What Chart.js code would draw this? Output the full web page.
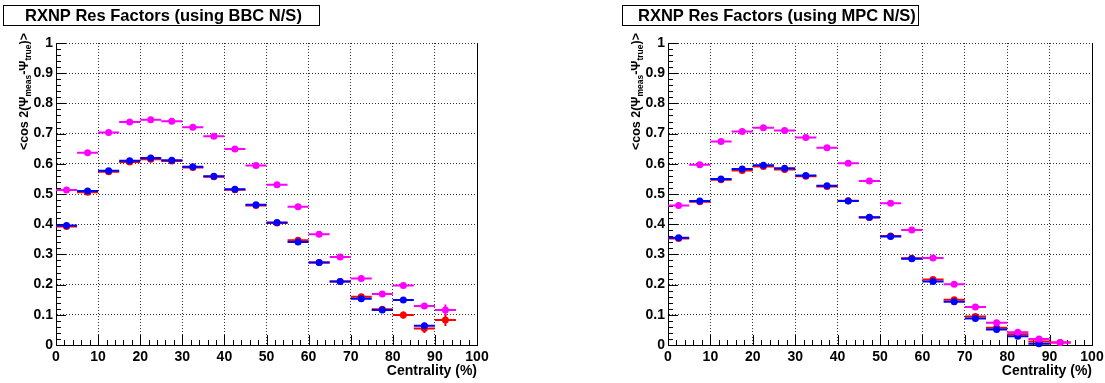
<!DOCTYPE html>
<html>
<head>
<meta charset="utf-8">
<script src="https://cdn.jsdelivr.net/npm/chart.js@4.4.1/dist/chart.umd.min.js"></script>
<style>
body { margin: 0; background: #fff; }
#wrap { position: relative; width: 1105px; height: 383px; }
.pad { position: absolute; top: 0; height: 383px; }
</style>
</head>
<body>
<div id="wrap">
  <div class="pad" style="left:0;width:552px"><canvas id="bbcChart"></canvas></div>
  <div class="pad" style="left:552px;width:553px"><canvas id="mpcChart"></canvas></div>
</div>
<script>
// centrality bin centres (5% wide bins)
var centrality = [2.5, 7.5, 12.5, 17.5, 22.5, 27.5, 32.5, 37.5, 42.5, 47.5, 52.5, 57.5, 62.5, 67.5, 72.5, 77.5, 82.5, 87.5, 92.5];
var binHalfWidth = 2.5;

// BBC N/S panel
var bbcMagenta = [0.513, 0.637, 0.704, 0.738, 0.746, 0.741, 0.721, 0.691, 0.649, 0.594, 0.531, 0.458, 0.367, 0.291, 0.220, 0.169, 0.197, 0.129, 0.116];
var bbcBlue    = [0.396, 0.510, 0.577, 0.610, 0.619, 0.612, 0.590, 0.559, 0.516, 0.464, 0.406, 0.341, 0.273, 0.210, 0.153, 0.116, 0.149, 0.064, null];
var bbcRed     = [0.392, 0.506, 0.574, 0.606, 0.615, 0.609, 0.588, 0.557, 0.514, 0.462, 0.404, 0.347, 0.273, 0.210, 0.160, 0.118, 0.099, 0.055, 0.083];
var bbcMagentaErr = [0.003, 0.003, 0.003, 0.003, 0.003, 0.003, 0.003, 0.003, 0.003, 0.003, 0.004, 0.004, 0.004, 0.005, 0.005, 0.006, 0.006, 0.008, 0.018];
var bbcBlueErr    = [0.003, 0.003, 0.003, 0.003, 0.003, 0.003, 0.003, 0.003, 0.003, 0.003, 0.004, 0.004, 0.005, 0.005, 0.007, 0.007, 0.008, 0.010, 0];
var bbcRedErr     = [0.003, 0.003, 0.003, 0.003, 0.003, 0.003, 0.003, 0.003, 0.003, 0.003, 0.004, 0.004, 0.005, 0.005, 0.007, 0.007, 0.012, 0.015, 0.020];

// MPC N/S panel
var mpcMagenta = [0.462, 0.597, 0.674, 0.707, 0.719, 0.710, 0.687, 0.653, 0.602, 0.543, 0.469, 0.381, 0.288, 0.201, 0.126, 0.074, 0.042, 0.020, 0.008];
var mpcBlue    = [0.355, 0.477, 0.550, 0.583, 0.595, 0.585, 0.561, 0.527, 0.477, 0.423, 0.359, 0.286, 0.210, 0.143, 0.088, 0.051, 0.029, 0.004, null];
var mpcRed     = [0.353, 0.474, 0.547, 0.578, 0.591, 0.581, 0.559, 0.525, 0.478, 0.422, 0.361, 0.287, 0.217, 0.150, 0.094, 0.057, 0.036, 0.012, 0.008];
var mpcMagentaErr = [0.003, 0.003, 0.003, 0.003, 0.003, 0.003, 0.003, 0.003, 0.003, 0.003, 0.003, 0.003, 0.003, 0.004, 0.004, 0.004, 0.004, 0.005, 0.005];
var mpcBlueErr    = [0.003, 0.003, 0.003, 0.003, 0.003, 0.003, 0.003, 0.003, 0.003, 0.003, 0.003, 0.003, 0.003, 0.004, 0.004, 0.004, 0.004, 0.005, 0];
var mpcRedErr     = [0.003, 0.003, 0.003, 0.003, 0.003, 0.003, 0.003, 0.003, 0.003, 0.003, 0.003, 0.003, 0.003, 0.004, 0.004, 0.004, 0.004, 0.005, 0.005];

var xTitle = 'Centrality (%)';
var FONT = '"Liberation Sans", Arial, Helvetica, sans-serif';

function toPoints(vals, errs) {
    var pts = [];
    for (var i = 0; i < centrality.length; i++) {
        if (vals[i] == null) continue;
        pts.push({ x: centrality[i], y: vals[i], err: errs[i] });
    }
    return pts;
}

function drawYTitle(ctx, x, yTop) {
    var big = 'bold 12.5px ' + FONT;
    var small = 'bold 8.5px ' + FONT;
    var parts = [
        { t: '<cos 2(', f: big, d: 0 },
        { t: '\u03A8', f: big, d: 0 },
        { t: 'meas', f: small, d: 3 },
        { t: '-', f: big, d: 0 },
        { t: '\u03A8', f: big, d: 0 },
        { t: 'true', f: small, d: 3 },
        { t: ')>', f: big, d: 0 }
    ];
    var total = 0;
    parts.forEach(function (p) { ctx.font = p.f; p.w = ctx.measureText(p.t).width; total += p.w; });
    ctx.save();
    ctx.translate(x, yTop);
    ctx.rotate(-Math.PI / 2);
    ctx.fillStyle = '#000';
    ctx.textBaseline = 'alphabetic';
    ctx.textAlign = 'left';
    var cx = -total;
    parts.forEach(function (p) {
        ctx.font = p.f;
        ctx.fillText(p.t, cx, p.d);
        cx += p.w;
    });
    ctx.restore();
}

var rootStyle = {
    id: 'rootStyle',
    beforeDatasetsDraw: function (chart) {
        var ctx = chart.ctx, a = chart.chartArea;
        var xs = chart.scales.x, ys = chart.scales.y;
        ctx.save();
        ctx.strokeStyle = '#000';
        ctx.lineWidth = 1;
        ctx.beginPath();
        // right frame edge
        ctx.moveTo(Math.round(a.right) + 0.5, a.top);
        ctx.lineTo(Math.round(a.right) + 0.5, a.bottom);
        // ticks inside the frame
        for (var i = 0; i <= 50; i++) {
            var px = Math.round(xs.getPixelForValue(i * 2)) + 0.5;
            var len = (i % 5 == 0) ? 10 : 5;
            ctx.moveTo(px, a.bottom);
            ctx.lineTo(px, a.bottom - len);
            var py = Math.round(ys.getPixelForValue(i * 0.02)) + 0.5;
            ctx.moveTo(a.left, py);
            ctx.lineTo(a.left + len, py);
        }
        ctx.stroke();
        ctx.restore();
    },
    beforeDatasetDraw: function (chart, args) {
        var ctx = chart.ctx;
        var xs = chart.scales.x, ys = chart.scales.y;
        var ds = chart.data.datasets[args.index];
        ctx.save();
        ctx.strokeStyle = ds.borderColor;
        ctx.lineWidth = 2;
        ctx.beginPath();
        ds.data.forEach(function (p) {
            var y = ys.getPixelForValue(p.y);
            var x = xs.getPixelForValue(p.x);
            ctx.moveTo(xs.getPixelForValue(p.x - binHalfWidth), y);
            ctx.lineTo(xs.getPixelForValue(p.x + binHalfWidth), y);
            if (p.err) {
                ctx.moveTo(x, ys.getPixelForValue(p.y - p.err));
                ctx.lineTo(x, ys.getPixelForValue(p.y + p.err));
            }
        });
        ctx.stroke();
        ctx.restore();
    },
    afterDraw: function (chart, args, opts) {
        var ctx = chart.ctx, a = chart.chartArea;
        ctx.save();
        // title box
        ctx.fillStyle = '#fff';
        ctx.fillRect(opts.boxX0, 5, opts.boxX1 - opts.boxX0, 20);
        ctx.strokeStyle = '#000';
        ctx.lineWidth = 1;
        ctx.strokeRect(opts.boxX0 + 0.5, 5.5, opts.boxX1 - opts.boxX0, 20);
        ctx.fillStyle = '#000';
        ctx.font = 'bold 16.5px ' + FONT;
        ctx.textAlign = 'left';
        ctx.textBaseline = 'alphabetic';
        ctx.fillText(opts.title, opts.textX, 21);
        // x axis title
        ctx.font = 'bold 14px ' + FONT;
        ctx.textAlign = 'right';
        ctx.fillText(xTitle, a.right, 375);
        ctx.restore();
        drawYTitle(ctx, a.left - 28, 33);
    }
};

function makeChart(id, title, mag, blue, red, magErr, blueErr, redErr, padLeft, padRight, boxX0, boxX1, textX) {
    var tickFont = { family: FONT, size: 14, weight: 'bold' };
    var gridColor = function (c) {
        var v = c.tick ? c.tick.value : -1;
        return (v === 0 || v === 100) ? 'rgba(0,0,0,0)' : '#333';
    };
    return new Chart(document.getElementById(id).getContext('2d'), {
        type: 'scatter',
        data: {
            datasets: [
                { data: toPoints(mag, magErr), borderColor: '#ff00ff', backgroundColor: '#ff00ff', pointRadius: 3.5, pointBorderWidth: 0, clip: false },
                { data: toPoints(blue, blueErr), borderColor: '#0000ff', backgroundColor: '#0000ff', pointRadius: 3.5, pointBorderWidth: 0, clip: false },
                { data: toPoints(red, redErr), borderColor: '#ff0000', backgroundColor: '#ff0000', pointRadius: 3.5, pointBorderWidth: 0, clip: false }
            ]
        },
        options: {
            responsive: true,
            maintainAspectRatio: false,
            animation: false,
            devicePixelRatio: 1,
            layout: { padding: { top: 43, right: padRight, bottom: 0, left: padLeft } },
            plugins: {
                legend: { display: false },
                tooltip: { enabled: false },
                rootStyle: { title: title, boxX0: boxX0, boxX1: boxX1, textX: textX }
            },
            scales: {
                x: {
                    type: 'linear', min: 0, max: 100,
                    ticks: { stepSize: 10, font: tickFont, color: '#000', padding: 4, maxRotation: 0, autoSkip: false },
                    grid: { drawTicks: false, color: gridColor, lineWidth: 1 },
                    border: { display: true, color: '#000', width: 1, dash: [1, 2] },
                    afterFit: function (s) { s.height = 38; s.paddingLeft = 0; s.paddingRight = 0; }
                },
                y: {
                    type: 'linear', min: 0, max: 1,
                    ticks: {
                        stepSize: 0.1, font: tickFont, color: '#000', padding: 3, autoSkip: false,
                        callback: function (v) { return (Math.round(v * 10) / 10).toString(); }
                    },
                    grid: { drawTicks: false, color: gridColor, lineWidth: 1 },
                    border: { display: true, color: '#000', width: 1, dash: [1, 2] },
                    afterFit: function (s) { s.width = 56; s.paddingTop = 0; s.paddingBottom = 0; }
                }
            }
        },
        plugins: [rootStyle]
    });
}

makeChart('bbcChart', 'RXNP Res Factors (using BBC N/S)', bbcMagenta, bbcBlue, bbcRed,
    bbcMagentaErr, bbcBlueErr, bbcRedErr, 0, 75, 3, 319, 25);
makeChart('mpcChart', 'RXNP Res Factors (using MPC N/S)', mpcMagenta, mpcBlue, mpcRed,
    mpcMagentaErr, mpcBlueErr, mpcRedErr, 60, 13, 70, 366, 86);
</script>
</body>
</html>
